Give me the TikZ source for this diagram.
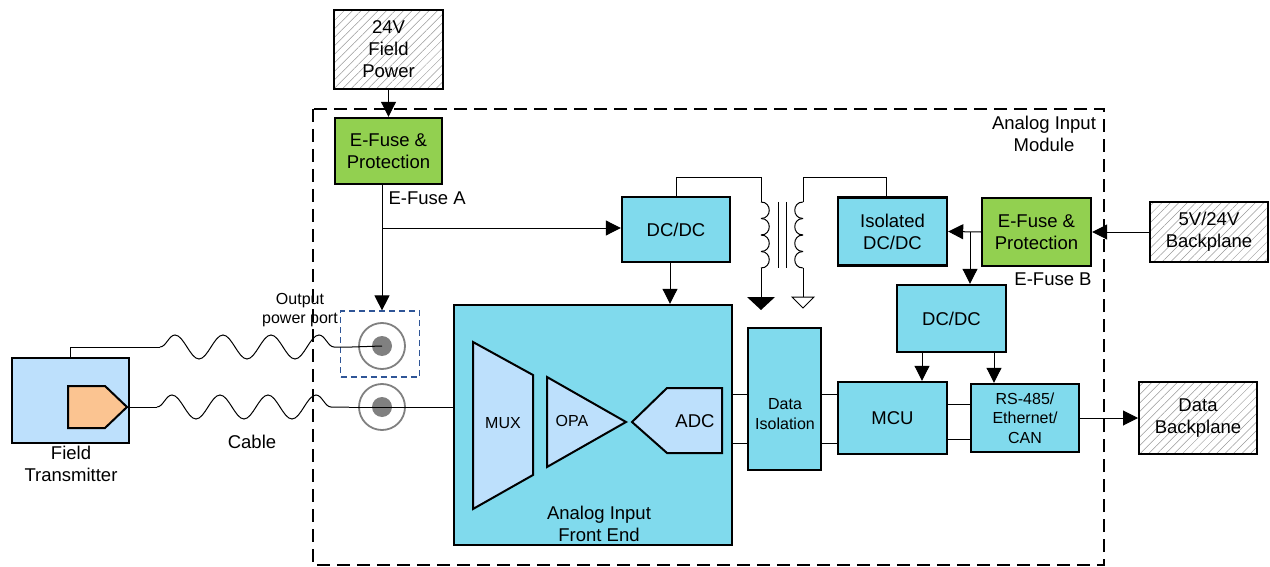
\documentclass[tikz,border=0pt]{standalone}
\usepackage{fontspec}
\setmainfont{Liberation Sans}
\usetikzlibrary{arrows.meta,positioning,calc,patterns.meta,decorations.pathmorphing}
\definecolor{blkcyan}{RGB}{128,218,237}
\definecolor{fusegreen}{RGB}{146,208,80}
\definecolor{partblue}{RGB}{189,224,252}
\definecolor{xmtrorange}{RGB}{251,196,145}
\definecolor{portblue}{RGB}{47,85,151}
\tikzset{
	box/.style={draw,line width=2.4pt,align=center,font=\fontsize{18.5}{22}\selectfont},
	blk/.style={box,fill=blkcyan},
	fuse/.style={box,fill=fusegreen},
	ext/.style={box,line width=2pt,pattern={Lines[angle=45,distance=6pt,line width=0.5pt]},pattern color=gray!80},
	part/.style={draw,line width=2pt,fill=partblue},
	wire/.style={line width=1pt},
	arr/.style={wire,-{Triangle[length=15pt,width=15pt]}},
	cable/.style={wire,decorate,decoration={snake,amplitude=12pt,segment length=48pt}},
	lbl/.style={align=center,font=\fontsize{18.5}{22}\selectfont},
	small/.style={align=center,font=\fontsize{16}{19.5}\selectfont},
}
\begin{document}
\begin{tikzpicture}[x=1pt,y=-1pt]
	\useasboundingbox (0,0) rectangle (1270,567);
	% module outline
	\draw[line width=2pt,dash pattern=on 13pt off 7pt] (313,109) rectangle (1104,565);
	\node (lblModule) at (1044,134) [lbl] {Analog Input\\Module};
	
	% field side supply
	\node (fpwr) at (388.5,49.5) [ext,minimum width=109,minimum height=79] {24V\\Field\\Power};
	\node (efA) at (388.5,151) [fuse,minimum width=107,minimum height=66] {E-Fuse \&\\Protection};
	\node[anchor=west] (lblEfA) at (385,198) [lbl] {E-Fuse A};
	\draw[arr] (fpwr.south) -- (efA.north);
	
	% output power port and connectors
	\node (port) at (380,344) [draw=portblue,line width=1.2pt,dash pattern=on 6pt off 4pt,minimum width=79,minimum height=66] {};
	\node (cxA) at (382,346) [circle,draw=gray,line width=1.8pt,minimum size=46] {};
	\node (pinA) at (cxA) [circle,fill=gray,minimum size=20,inner sep=0] {};
	\node (cxB) at (382,407) [circle,draw=gray,line width=1.8pt,minimum size=46] {};
	\node (pinB) at (cxB) [circle,fill=gray,minimum size=20,inner sep=0] {};
	\node (lblPort) at (300,310) [small] {Output\\power port};
	
	% DC/DC for front end
	\node (dcA) at (676,229.5) [blk,minimum width=108,minimum height=65] {DC/DC};
	\coordinate (tapA) at (382,228);
	\draw[wire] (tapA |- efA.south) -- (tapA);
	\draw[arr] (tapA) -- (tapA |- port.north);
	\draw[arr] (tapA) -- (tapA -| dcA.west);
	
	% analog front end
	\node (afe) at (593,425) [blk,minimum width=278,minimum height=240] {};
	\node (lblAfe) at (599,524) [lbl] {Analog Input\\Front End};
	\draw[arr] ($(dcA.south)+(-6,0)$) coordinate (dcAo) -- (dcAo |- afe.north);
	\draw[part] (473,342) -- (533,375) -- (533,475) -- (473,509) -- cycle;
	\node (mux) at (503,423) [small] {MUX};
	\draw[part] (547,377) -- (626,422) -- (547,467) -- cycle;
	\node (opa) at (572,421) [small] {OPA};
	\draw[part] (632,422) -- (667,388) -- (722,388) -- (722,453) -- (667,453) -- cycle;
	\node (adc) at (695,421) [lbl] {ADC};
	
	% transformer
	\coordinate (priTop) at (761,202);
	\coordinate (secTop) at (803,202);
	\draw[wire] (dcA.north) -- ++(0,-18) -| (priTop);
	\foreach \y in {202,218.5,235,251.5}{
		\draw[wire] (761,\y) .. controls (772,\y) and (772,\y+16.5) .. (761,\y+16.5);
		\draw[wire] (803,\y) .. controls (792,\y) and (792,\y+16.5) .. (803,\y+16.5);
	}
	\draw[wire] (778,202) -- (778,268);
	\draw[wire] (786,202) -- (786,268);
	\draw[wire] (761,268) -- (761,297) coordinate (gndA);
	\draw[wire] (803,268) -- (803,297) coordinate (gndB);
	\fill (747,297) -- (775,297) -- (761,310) -- cycle;
	\draw[wire] (792,297) -- (814,297) -- (803,308) -- cycle;
	
	% backplane side supply
	\node (iso) at (892.5,231.5) [blk,minimum width=109,minimum height=68] {Isolated\\DC/DC};
	\node (efB) at (1036.5,232) [fuse,minimum width=109,minimum height=68] {E-Fuse \&\\Protection};
	\node (lblEfB) at (1053,279) [lbl] {E-Fuse B};
	\node (bkpl) at (1209,232) [ext,minimum width=118,minimum height=60] {5V/24V\\Backplane};
	\draw[wire] (secTop) -- ++(0,-24) -| ($(iso.north)+(-6,0)$);
	\draw[arr] (bkpl.west) -- (efB.east);
	\draw[arr] (efB.west) -- (iso.east);
	\node (dcB) at (951.5,318.5) [blk,minimum width=109,minimum height=67] {DC/DC};
	\coordinate (tapB) at (970,232);
	\draw[arr] (tapB) -- (tapB |- dcB.north);
	
	% digital side
	\node (diso) at (784.5,399) [blk,minimum width=73,minimum height=142] {};
	\node (lblDiso) at (785,414) [small] {Data\\Isolation};
	\node (mcu) at (892.5,418) [blk,minimum width=109,minimum height=72] {MCU};
	\node (rs) at (1025,418) [blk,minimum width=108,minimum height=68,font=\fontsize{16}{19.5}\selectfont] {RS-485/\\Ethernet/\\CAN};
	\node (dbkpl) at (1198,418) [ext,minimum width=118,minimum height=72] {Data\\Backplane};
	\draw[arr] ($(dcB.south)+(-29.5,0)$) coordinate (dcBa) -- (dcBa |- mcu.north);
	\draw[arr] ($(dcB.south)+(42.5,0)$) coordinate (dcBb) -- (dcBb |- rs.north);
	\foreach \dy in {-5,44}{
		\draw[wire] ($(diso.west)+(0,\dy)$) coordinate (p) -- (p -| afe.east);
		\draw[wire] ($(diso.east)+(0,\dy)$) coordinate (q) -- (q -| mcu.west);
	}
	\foreach \dy in {-14,21}{
		\draw[wire] ($(mcu.east)+(0,\dy)$) coordinate (r) -- (r -| rs.west);
	}
	\draw[arr] (rs.east) -- (dbkpl.west);
	
	% field transmitter and cables
	\node (xmtr) at (70.5,400.5) [draw,line width=2.4pt,fill=partblue,minimum width=117,minimum height=85] {};
	\draw[line width=2pt,fill=xmtrorange] (68,386) -- (105,386) -- (127,407) coordinate (probe) -- (105,428) -- (68,428) -- cycle;
	\node (lblXmtr) at (71,464) [lbl] {Field\\Transmitter};
	\node (lblCable) at (252,442) [lbl] {Cable};
	\coordinate (cabA1) at (160,347);
	\coordinate (cabA2) at (352,347);
	\coordinate (cabB1) at (157,407);
	\coordinate (cabB2) at (349,407);
	\draw[wire] (xmtr.north) |- (cabA1);
	\draw[cable] (cabA1) -- (cabA2);
	\draw[wire] (cabA2) -- (pinA.center);
	\draw[wire] (probe) -- (cabB1);
	\draw[cable] (cabB1) -- (cabB2);
	\draw[wire] (cabB2) -- (cabB2 -| afe.west);
\end{tikzpicture}
\end{document}
